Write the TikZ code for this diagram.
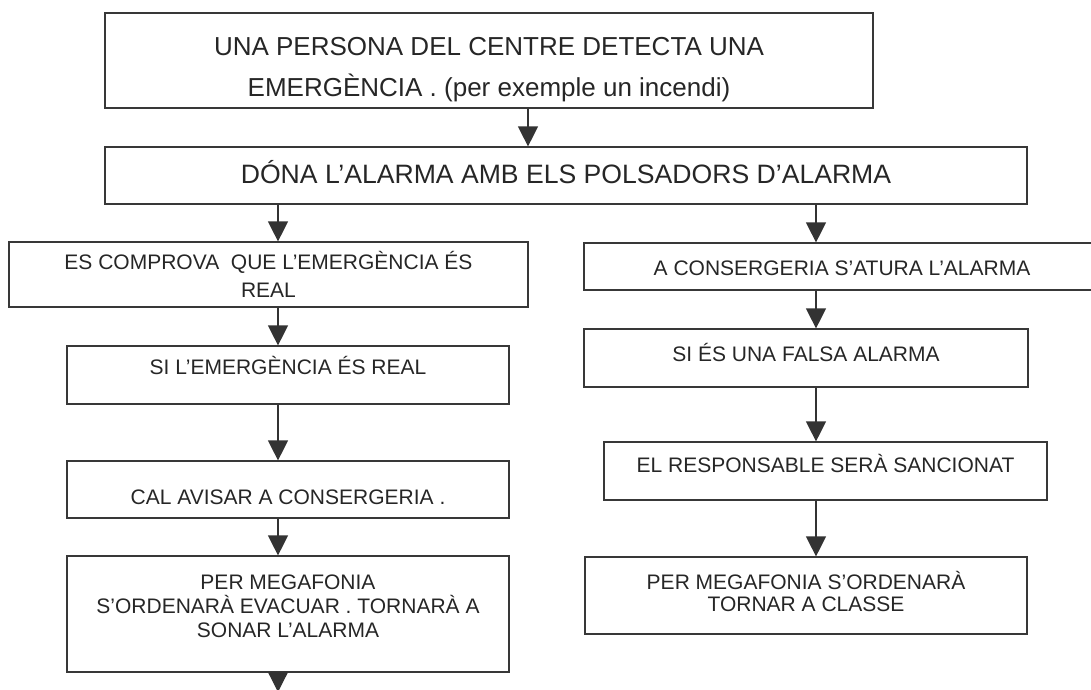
\documentclass[tikz,border=0pt]{standalone}
\usepackage{fontspec}
\setmainfont{Liberation Sans}
\usetikzlibrary{arrows.meta}

\begin{document}
\begin{tikzpicture}[x=1pt, y=-1pt,
    box/.style={draw=black!78, line width=1.2pt, inner sep=0pt, align=center, text=black!85, font=\fontsize{21}{24}\selectfont},
    arr/.style={draw=black!78, line width=1.2pt, -{Triangle[width=20pt,length=20pt]}, black!80}]

    \useasboundingbox (0,0) rectangle (1091,689);

    \node[box, minimum width=768pt, text height=83pt, text depth=12pt, font=\fontsize{26}{41}\selectfont] (a) at (489, 60.5) {UNA PERSONA DEL CENTRE DETECTA UNA\\EMERGÈNCIA . (per exemple un incendi)};
    \node[box, minimum width=922pt, text height=36pt, text depth=21pt, font=\fontsize{26.6}{30}\selectfont] (b) at (566, 175.5) {DÓNA L’ALARMA AMB ELS POLSADORS D’ALARMA};

    % left column
    \node[box, minimum width=519pt, text height=55.5pt, text depth=9.5pt, font=\fontsize{21}{28}\selectfont] (c) at (268.5, 274.5) {ES COMPROVA~ QUE L’EMERGÈNCIA ÉS\\REAL};
    \node[box, minimum width=442pt, text height=28.5pt, text depth=29.5pt] (d) at (288, 375) {SI L’EMERGÈNCIA ÉS REAL};
    \node[box, minimum width=442pt, text height=43.5pt, text depth=13.5pt] (e) at (288, 489.5) {CAL AVISAR A CONSERGERIA .};
    \node[box, minimum width=442pt, text height=81pt, text depth=35pt] (f) at (288, 614) {PER MEGAFONIA\\S’ORDENARÀ EVACUAR . TORNARÀ A\\SONAR L’ALARMA};

    % right column
    \node[box, minimum width=516pt, text height=32.5pt, text depth=14.5pt] (g) at (842, 266.5) {A CONSERGERIA S’ATURA L’ALARMA};
    \node[box, minimum width=444pt, text height=32.5pt, text depth=25.5pt] (h) at (806, 358) {SI ÉS UNA FALSA ALARMA};
    \node[box, minimum width=443pt, text height=30.5pt, text depth=27.5pt] (i) at (825.5, 471) {EL RESPONSABLE SERÀ SANCIONAT};
    \node[box, minimum width=442pt, text height=54.5pt, text depth=22.5pt, font=\fontsize{21}{22}\selectfont] (j) at (806, 595.5) {PER MEGAFONIA S’ORDENARÀ\\TORNAR A CLASSE};

    \coordinate (t) at (528, 0);
    \coordinate (l) at (278, 0);
    \coordinate (r) at (816, 0);
    \coordinate (k) at (278, 692);

    \draw [arr] (a.south -| t) -- (b.north -| t);
    \draw [arr] (b.south -| l) -- (c.north -| l);
    \draw [arr] (c.south -| l) -- (d.north -| l);
    \draw [arr] (d.south -| l) -- (e.north -| l);
    \draw [arr] (e.south -| l) -- (f.north -| l);
    \draw [arr] (f.south -| l) -- (k);
    \draw [arr] (b.south -| r) -- (g.north -| r);
    \draw [arr] (g.south -| r) -- (h.north -| r);
    \draw [arr] (h.south -| r) -- (i.north -| r);
    \draw [arr] (i.south -| r) -- (j.north -| r);

\end{tikzpicture}
\end{document}
